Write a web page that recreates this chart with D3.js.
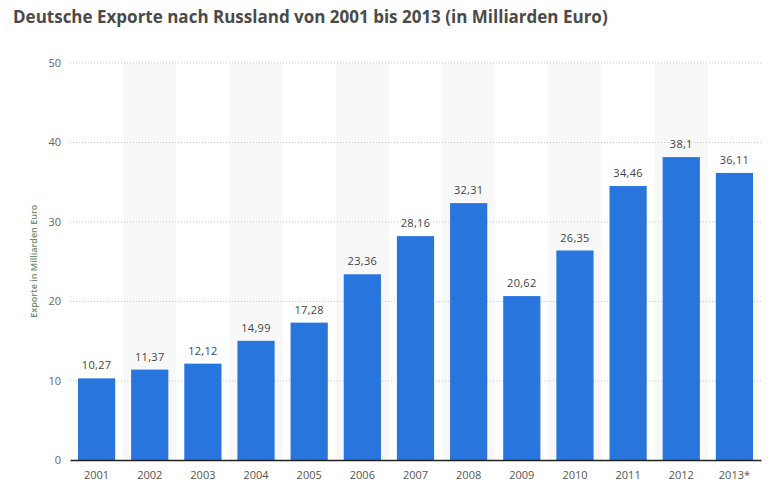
<!DOCTYPE html>
<html><head><meta charset="utf-8">
<script src="https://cdn.jsdelivr.net/npm/d3@7"></script>
<style>body{margin:0;background:#fff;font-family:"Open Sans",sans-serif}</style>
</head><body>
<svg id="c" width="771" height="494"></svg>
<script>
const categories = ["2001","2002","2003","2004","2005","2006","2007","2008","2009","2010","2011","2012","2013*"];
const values = [10.27,11.37,12.12,14.99,17.28,23.36,28.16,32.31,20.62,26.35,34.46,38.1,36.11];
const valueLabels = ["10,27","11,37","12,12","14,99","17,28","23,36","28,16","32,31","20,62","26,35","34,46","38,1","36,11"];
const yTicks = [0,10,20,30,40,50];

(function(){
const svg = d3.select("#c");
const mL = 70, mR = 761, mT = 62.5, mB = 460;
const x = d3.scaleBand().domain(categories).range([mL, mR]).paddingInner(0.3).paddingOuter(0.15);
const xs = d3.scaleBand().domain(categories).range([mL, mR]).padding(0);
const y = d3.scaleLinear().domain([0,50]).range([mB, mT]);

svg.append("text").attr("x",13).attr("y",23).attr("font-size",17).attr("font-weight",700)
  .attr("fill","#4a4a4a").text("Deutsche Exporte nach Russland von 2001 bis 2013 (in Milliarden Euro)");

// stripes
svg.append("g").selectAll("rect").data(categories.filter((d,i)=>i%2===1)).join("rect")
  .attr("x",d=>xs(d)).attr("width",xs.bandwidth()).attr("y",mT).attr("height",mB-mT).attr("fill","#f8f8f8");

// grid
const ga = svg.append("g").attr("transform",`translate(${mL},0)`)
  .call(d3.axisLeft(y).tickValues(yTicks).tickSize(-(mR-mL)).tickPadding(9));
ga.select(".domain").remove();
ga.selectAll(".tick line").attr("stroke","#c8c8c8").attr("stroke-dasharray","1,2").attr("stroke-width",1);
ga.selectAll(".tick text").attr("font-size",11).attr("fill","#666").attr("font-family","Open Sans, sans-serif");
ga.selectAll(".tick").filter(d=>d===0).select("line").remove();

// bars
svg.append("g").selectAll("rect").data(values).join("rect")
  .attr("x",(d,i)=>x(categories[i])).attr("width",x.bandwidth())
  .attr("y",d=>y(d)).attr("height",d=>mB-y(d)).attr("fill","#2876dd");

svg.append("g").selectAll("text").data(values).join("text")
  .attr("x",(d,i)=>x(categories[i])+x.bandwidth()/2).attr("y",d=>y(d)-9)
  .attr("text-anchor","middle").attr("font-size",11).attr("fill","#444").attr("letter-spacing","0.3")
  .text((d,i)=>valueLabels[i]);

// x axis
const xa = svg.append("g").attr("transform",`translate(0,${mB})`).call(d3.axisBottom(xs).tickSize(0).tickPadding(11));
xa.select(".domain").attr("stroke","#222").attr("stroke-width",1.6);
xa.selectAll(".tick text").attr("font-size",11).attr("fill","#555").attr("font-family","Open Sans, sans-serif");

svg.append("text").attr("transform",`translate(37,${(mT+mB)/2}) rotate(-90)`).attr("text-anchor","middle")
  .attr("font-size",9).attr("font-weight",600).attr("fill","#6f8f6f").text("Exporte in Milliarden Euro");
})();
</script>
</body></html>
